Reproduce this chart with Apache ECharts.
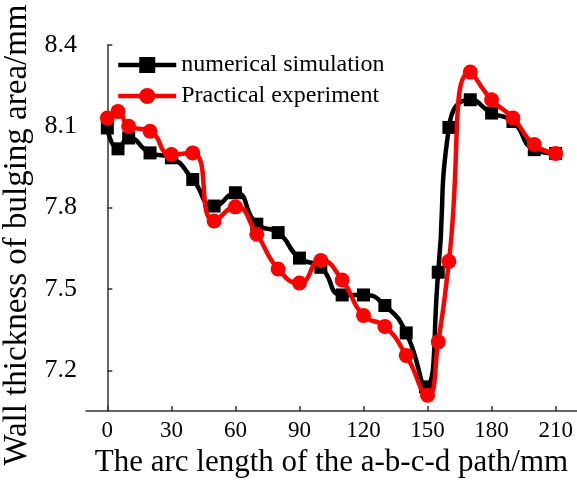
<!DOCTYPE html>
<html>
<head>
<meta charset="utf-8">
<script src="https://cdn.jsdelivr.net/npm/echarts@6/dist/echarts.min.js"></script>
<style>
html,body{margin:0;padding:0;background:#fff;}
#c{width:577px;height:486px;}
</style>
</head>
<body>
<div id="c"></div>
<script>
// Numerical simulation (x in mm, wall thickness in mm)
const simX = [0, 5, 10, 20, 30, 40, 50, 60, 70, 80, 90, 100, 110, 120, 130, 140, 149, 155, 160, 170, 180, 190, 200, 210];
const simY = [8.094, 8.017, 8.057, 8.002, 7.984, 7.904, 7.806, 7.855, 7.739, 7.708, 7.614, 7.580, 7.478, 7.478, 7.439, 7.338, 7.139, 7.562, 8.096, 8.198, 8.149, 8.118, 8.014, 8.000];
// Practical experiment
const expX = [0, 5, 10, 20, 30, 40, 50, 60, 70, 80, 90, 100, 110, 120, 130, 140, 150, 155, 160, 170, 180, 190, 200, 210];
const expY = [8.131, 8.155, 8.100, 8.082, 7.996, 8.002, 7.751, 7.803, 7.702, 7.574, 7.522, 7.605, 7.533, 7.402, 7.362, 7.255, 7.108, 7.305, 7.602, 8.300, 8.198, 8.131, 8.033, 8.000];
const xTicks = [0, 30, 60, 90, 120, 150, 180, 210];
const yTicks = [7.2, 7.5, 7.8, 8.1, 8.4];
const seriesNames = ['numerical simulation', 'Practical experiment'];

const font = 'Liberation Serif';
const chart = echarts.init(document.getElementById('c'), null, {renderer: 'canvas'});
const pair = (xs, ys) => xs.map((x, i) => [x, ys[i]]);

chart.setOption({
  animation: false,
  backgroundColor: '#fff',
  grid: {left: 86, right: 0, top: 45, bottom: 75, containLabel: false, outerBoundsMode: 'none'},
  legend: {
    orient: 'vertical',
    left: 116,
    top: 51,
    padding: 0,
    itemWidth: 58,
    itemHeight: 20,
    itemGap: 3,
    lineStyle: {width: 4.5},
    textStyle: {fontFamily: font, fontSize: 24, color: '#000', lineHeight: 28},
    data: seriesNames
  },
  xAxis: {
    type: 'value',
    min: -10,
    max: 220,
    name: 'The arc length of the a-b-c-d path/mm',
    nameLocation: 'middle',
    nameGap: 36,
    nameTextStyle: {fontFamily: font, fontSize: 31, color: '#000'},
    axisLine: {show: true, lineStyle: {color: '#333', width: 1.5}},
    axisTick: {show: true, inside: true, length: 5, customValues: xTicks, lineStyle: {color: '#333', width: 1.5}},
    axisLabel: {customValues: xTicks, fontFamily: font, fontSize: 23, color: '#000', margin: 8},
    splitLine: {show: false}
  },
  yAxis: {
    type: 'value',
    min: 7.05,
    max: 8.4,
    name: 'Wall thickness of bulging area/mm',
    nameLocation: 'middle',
    nameGap: 45,
    nameTextStyle: {fontFamily: font, fontSize: 33, color: '#000', padding: [0, 14, 0, 0]},
    axisLine: {show: true, lineStyle: {color: '#333', width: 1.5}},
    axisTick: {show: true, inside: true, length: 5, customValues: yTicks, lineStyle: {color: '#333', width: 1.5}},
    axisLabel: {customValues: yTicks, fontFamily: font, fontSize: 26, color: '#000', margin: 9, formatter: v => v.toFixed(1)},
    splitLine: {show: false}
  },
  series: [
    {
      name: seriesNames[0],
      type: 'line',
      data: pair(simX, simY),
      smooth: 0.55,
      symbol: 'rect',
      symbolSize: 13,
      itemStyle: {color: '#000'},
      lineStyle: {color: '#000', width: 4.5},
      z: 2
    },
    {
      name: seriesNames[1],
      type: 'line',
      data: pair(expX, expY),
      smooth: 0.55,
      symbol: 'circle',
      symbolSize: 15,
      itemStyle: {color: '#ff0000'},
      lineStyle: {color: '#ff0000', width: 4.5},
      z: 3
    }
  ]
});
</script>
</body>
</html>
